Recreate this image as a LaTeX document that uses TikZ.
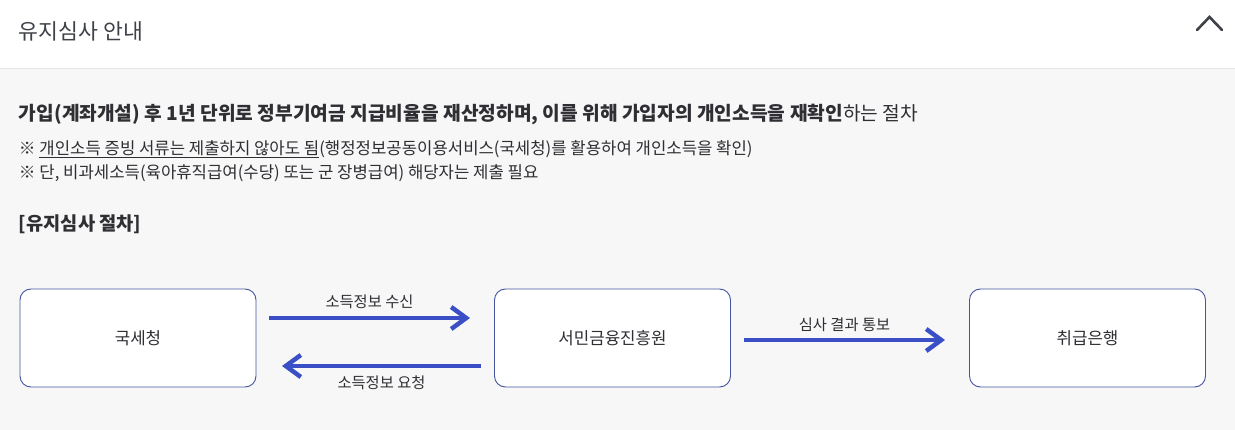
\documentclass[tikz,border=0pt]{standalone}
\usepackage{fontspec}
\setmainfont{Noto Sans CJK KR}
\usetikzlibrary{arrows.meta}
\definecolor{bgc}{HTML}{F7F7F8}
\definecolor{linec}{HTML}{E6E6E6}
\definecolor{titlec}{HTML}{3F4148}
\definecolor{textc}{HTML}{2E2E33}
\definecolor{boxc}{HTML}{46549F}
\definecolor{arrc}{HTML}{3A4FC6}
\tikzset{
  txt/.style={inner sep=0pt, outer sep=0pt, text=textc},
  stepbox/.style={draw=boxc, line width=0.9pt, fill=white, rounded corners=11pt,
    minimum width=236pt, minimum height=98pt, inner sep=0pt, text=textc,
    font=\fontsize{16.8}{19}\selectfont},
  flow/.style={draw=arrc, line width=4.5pt, -{Straight Barb[length=15pt,width=22pt,line width=4.5pt]}},
  lbl/.style={inner sep=0pt, text=textc, font=\fontsize{15.3}{17}\selectfont}
}
\begin{document}
\begin{tikzpicture}[x=1pt,y=-1pt]
\useasboundingbox (0,0) rectangle (1235,430);
\fill[white] (0,0) rectangle (1235,68);
\fill[bgc] (0,68) rectangle (1235,430);
\draw[linec, line width=1pt] (0,68.5) -- (1235,68.5);

\node[txt, anchor=base west, text=titlec, font=\fontsize{21.6}{24}\selectfont] (title) at (19,39.5) {유지심사 안내};
\coordinate (c1) at (1197,30);
\coordinate (c2) at (1209.5,17);
\coordinate (c3) at (1222,30);
\draw[titlec, line width=2.6pt, line cap=round, line join=miter] (c1) -- (c2) -- (c3);

\node[txt, anchor=base west, font=\fontsize{19.2}{22}\selectfont] (l1) at (19,121)
  {\textbf{가입(계좌개설) 후 1년 단위로 정부기여금 지급비율을 재산정하며, 이를 위해 가입자의 개인소득을 재확인}하는 절차};
\node[txt, anchor=base west, font=\fontsize{16.7}{19}\selectfont] (l2) at (19,154.5)
  {※ \underline{개인소득 증빙 서류는 제출하지 않아도 됨}(행정정보공동이용서비스(국세청)를 활용하여 개인소득을 확인)};
\node[txt, anchor=base west, font=\fontsize{16.7}{19}\selectfont] (l3) at (19,178.5)
  {※ 단, 비과세소득(육아휴직급여(수당) 또는 군 장병급여) 해당자는 제출 필요};
\node[txt, anchor=base west, font=\fontsize{18.7}{21}\selectfont\bfseries] (sub) at (19,231) {[유지심사 절차]};

\node[stepbox] (nts) at (138,338) {국세청};
\node[stepbox] (kinfa) at (612.5,338) {서민금융진흥원};
\node[stepbox] (bank) at (1087.5,338) {취급은행};

\coordinate (a1s) at (269,318);
\coordinate (a1e) at (470,318);
\coordinate (a2s) at (481,366);
\coordinate (a2e) at (282,366);
\coordinate (a3s) at (744,340);
\coordinate (a3e) at (945,340);
\draw[flow] (a1s) -- (a1e) node[lbl, midway, above=6.5pt] (t1) {소득정보 수신};
\draw[flow] (a2s) -- (a2e) node[lbl, midway, below=8pt] (t2) {소득정보 요청};
\draw[flow] (a3s) -- (a3e) node[lbl, midway, above=6.5pt] (t3) {심사 결과 통보};
\end{tikzpicture}
\end{document}
